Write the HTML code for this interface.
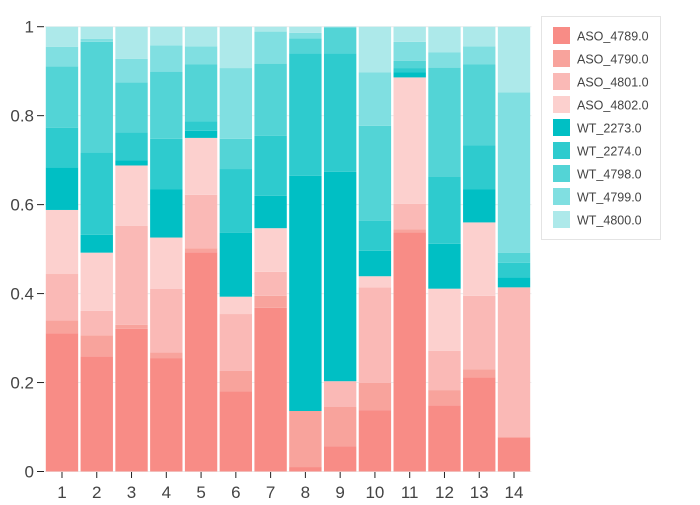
<!DOCTYPE html>
<html><head><meta charset="utf-8"><style>
body{margin:0;background:#fff;width:700px;height:500px;overflow:hidden;font-family:"Liberation Sans",sans-serif}
svg text{font-family:"Liberation Sans",sans-serif;fill:#444}
</style></head><body>
<svg id="chart" width="700" height="500" xmlns="http://www.w3.org/2000/svg"></svg>
<script>
const categories=["1","2","3","4","5","6","7","8","9","10","11","12","13","14"];
const seriesNames=["ASO_4789.0","ASO_4790.0","ASO_4801.0","ASO_4802.0","WT_2273.0","WT_2274.0","WT_4798.0","WT_4799.0","WT_4800.0"];
const colors=["#f88c86","#f8a39c","#fab9b6","#fcd0ce","#00bfc4","#2ecbce","#53d4d6","#80dfe1","#ade9ea"];
const s_ASO_4789=[0.311,0.259,0.321,0.255,0.493,0.180,0.368,0.010,0.057,0.138,0.538,0.149,0.212,0.077];
const s_ASO_4790=[0.029,0.047,0.009,0.013,0.009,0.046,0.027,0.126,0.088,0.061,0.006,0.034,0.018,0];
const s_ASO_4801=[0.104,0.055,0.222,0.143,0.120,0.128,0.054,0,0.058,0.215,0.058,0.088,0.165,0.337];
const s_ASO_4802=[0.144,0.131,0.136,0.115,0.128,0.039,0.098,0,0,0.025,0.284,0.140,0.165,0];
const s_WT_2273=[0.096,0.040,0.012,0.108,0.016,0.144,0.073,0.529,0.471,0.057,0.011,0.101,0.074,0.022];
const s_WT_2274=[0.089,0.185,0.062,0.114,0.021,0.143,0.135,0.275,0.266,0.068,0.010,0.151,0.099,0.033];
const s_WT_4798=[0.138,0.249,0.113,0.151,0.128,0.068,0.162,0.034,0.058,0.213,0.016,0.245,0.182,0.023];
const s_WT_4799=[0.044,0.007,0.053,0.059,0.041,0.159,0.072,0.012,0.002,0.120,0.043,0.034,0.041,0.360];
const s_WT_4800=[0.045,0.027,0.072,0.042,0.044,0.093,0.011,0.014,0,0.103,0.034,0.058,0.044,0.148];
const series=[s_ASO_4789,s_ASO_4790,s_ASO_4801,s_ASO_4802,s_WT_2273,s_WT_2274,s_WT_4798,s_WT_4799,s_WT_4800];
const yTicks=[0,0.2,0.4,0.6,0.8,1];
const yTickLabels=["0","0.2","0.4","0.6","0.8","1"];

const NS="http://www.w3.org/2000/svg";
const svg=document.getElementById('chart');
const L=44.6,R=531.4,T=26.7,B=471.5;
const band=(R-L)/categories.length;
const x=i=>L+i*band;
const y=v=>B-v*(B-T);
function mk(tag,attrs,parent){const e=document.createElementNS(NS,tag);for(const k in attrs)e.setAttribute(k,attrs[k]);(parent||svg).appendChild(e);return e;}

// grid
yTicks.forEach((t,i)=>{
  const g=mk('line',{x1:L,x2:R,y1:y(t),y2:y(t),stroke:'#ececec','stroke-width':1});
  
  
});
// bars
categories.forEach((c,i)=>{
  let cum=0;
  series.forEach((s,k)=>{
    const v=s[i];
    const r=mk('rect',{x:x(i)+1.2,width:band-2.4,y:y(cum+v),height:Math.max(0,y(cum)-y(cum+v)),fill:colors[k]});
    
    
    cum+=v;
  });
});
// y axis ticks
yTicks.forEach((t,i)=>{
  const l=mk('line',{x1:37,x2:44,y1:y(t),y2:y(t),stroke:'#222','stroke-width':1});
  
  
  const tx=mk('text',{x:34,y:y(t)+6,'text-anchor':'end','font-size':17});
  tx.textContent=yTickLabels[i];
  
  
});
// x axis ticks
categories.forEach((c,i)=>{
  const cx=x(i)+band/2;
  const l=mk('line',{x1:cx,x2:cx,y1:472,y2:478,stroke:'#222','stroke-width':1});
  
  
  const tx=mk('text',{x:cx,y:498,'text-anchor':'middle','font-size':17});
  tx.textContent=c;
  
  
});
// legend
const lg=mk('g',{});


mk('rect',{x:541.5,y:16.5,width:119,height:223,fill:'#fff',stroke:'#e4e4e4'},lg);
seriesNames.forEach((n,k)=>{
  const g=mk('g',{},lg);
  
  
  mk('rect',{x:553,y:27+k*23,width:17,height:17,fill:colors[k]},g);
  const t=mk('text',{x:577,y:40.5+k*23,'font-size':12.5},g);
  t.textContent=n;
});
</script>
</body></html>
